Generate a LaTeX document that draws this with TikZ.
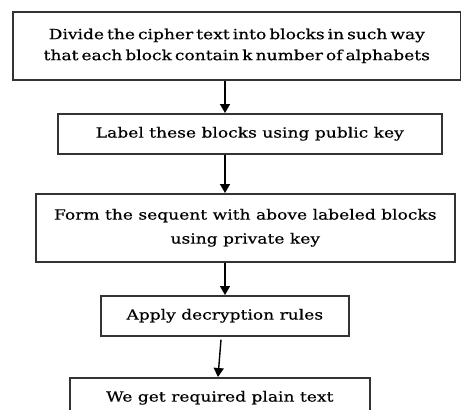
\documentclass[tikz,border=0pt]{standalone}
\usepackage{fontspec}
\setmainfont[FakeStretch=1.22, FakeBold=0.4]{DejaVu Serif}
\newfontfamily\tightserif[FakeStretch=1.22, FakeBold=0.4, WordSpace=0.55]{DejaVu Serif}
\usetikzlibrary{arrows.meta}
\definecolor{edge}{HTML}{333333}
\tikzset{
  stepbox/.style={draw=edge, line width=1.6pt, rectangle, inner sep=0pt,
    align=center, font=\fontsize{14}{21}\selectfont, anchor=north west},
  flow/.style={draw=black, line width=1.4pt,
    -{Triangle[length=9pt,width=10pt]}}
}
\begin{document}
\begin{tikzpicture}[x=1pt,y=-1pt]
  \useasboundingbox (0,0) rectangle (461,410);
  \clip (0,0) rectangle (461,410);

  % process boxes, top-left corner plus fixed size
  \node[stepbox, minimum width=448pt, minimum height=68pt,
        font=\tightserif\fontsize{14}{21}\selectfont] (b1) at (12,11)
    {Divide the cipher text into blocks in such way\\that each block contain k number of alphabets};
  \node[stepbox, minimum width=384pt, minimum height=40pt] (b2) at (57,113)
    {Label these blocks using public key};
  \node[stepbox, minimum width=419pt, minimum height=68pt,
        font=\fontsize{14}{24}\selectfont] (b3) at (35,193)
    {Form the sequent with above labeled blocks\\using private key};
  \node[stepbox, minimum width=248pt, minimum height=40pt] (b4) at (100,295)
    {Apply decryption rules};
  \node[stepbox, minimum width=300pt, minimum height=40pt] (b5) at (69,377)
    {We get required plain text};

  % guide positions for the arrow shafts
  \coordinate (ax) at (225,0);
  \coordinate (ax4) at (221,0);
  \coordinate (ax5) at (218,0);

  \draw[flow] (b1.south -| ax) -- (b2.north -| ax);
  \draw[flow] (b2.south -| ax) -- (b3.north -| ax);
  \draw[flow] (b3.south -| ax) -- (b4.north -| ax);
  \draw[flow] ([yshift=-3pt]b4.south -| ax4) -- (b5.north -| ax5);
\end{tikzpicture}
\end{document}
